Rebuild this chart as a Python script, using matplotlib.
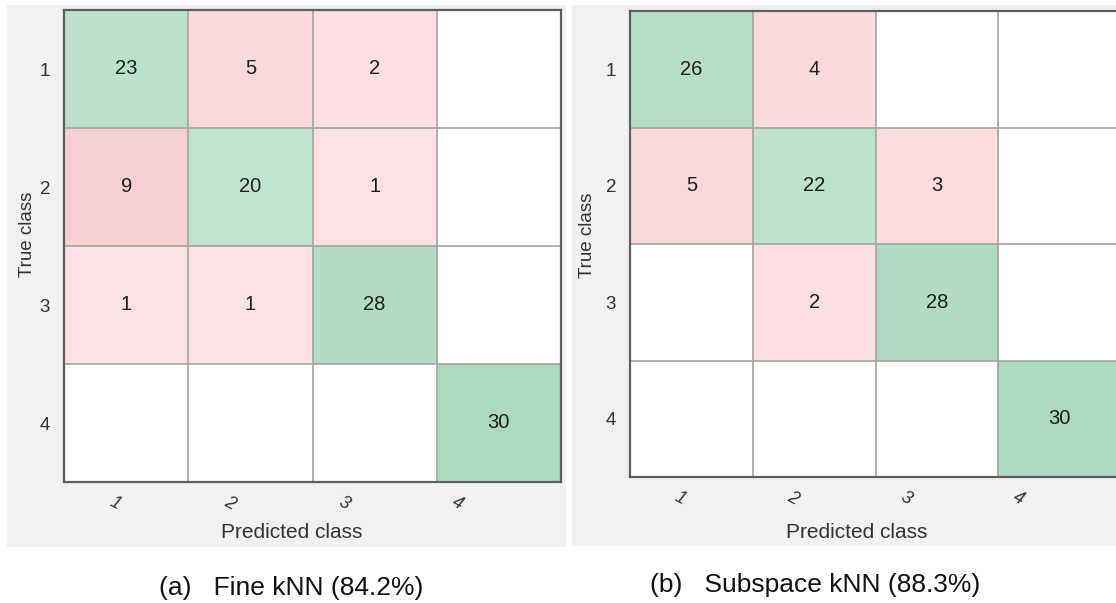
import numpy as np
import matplotlib
matplotlib.use('Agg')
import matplotlib.pyplot as plt
from matplotlib.colors import LinearSegmentedColormap, Normalize
from matplotlib.patches import Rectangle
import matplotlib.transforms as mtransforms

plt.rcParams['font.family'] = ['Liberation Sans', 'DejaVu Sans']

# ---------------- data ----------------
classes = ['1', '2', '3', '4']
fine_knn = [[23, 5, 2, 0],
            [9, 20, 1, 0],
            [1, 1, 28, 0],
            [0, 0, 0, 30]]
subspace_knn = [[26, 4, 0, 0],
                [5, 22, 3, 0],
                [0, 2, 28, 0],
                [0, 0, 0, 30]]
captions = ['(a)   Fine kNN (84.2%)', '(b)   Subspace kNN (88.3%)']
x_title = 'Predicted class'
y_title = 'True class'

# ---------------- layout (pixels) ----------------
W, H = 1116, 603
fig = plt.figure(figsize=(W / 100, H / 100), dpi=100)
fig.patch.set_facecolor('white')

def fig_rect(x0, y0, x1, y1):
    return [x0 / W, 1 - y1 / H, (x1 - x0) / W, (y1 - y0) / H]

panel_bg = [(7, 5, 566, 547), (572, 5, 1116, 546)]
axes_px = [(64, 10, 561, 482), (630, 11, 1121, 477)]
ylabel_px = [(27, 234), (588, 235)]
xlabel_px = [(292, 533), (857, 533)]
caption_px = [(291, 588), (815, 585)]

for (x0, y0, x1, y1) in panel_bg:
    r = fig_rect(x0, y0, x1, y1)
    fig.patches.append(Rectangle((r[0], r[1]), r[2], r[3], transform=fig.transFigure,
                                 facecolor='#f0f1f3', edgecolor='none', zorder=-10))

green_cmap = LinearSegmentedColormap.from_list(
    'g', [(235/255, 248/255, 240/255), (172/255, 218/255, 192/255)])
pink_cmap = LinearSegmentedColormap.from_list(
    'p', [(253/255, 227/255, 230/255), (235/255, 160/255, 163/255)])
norm = Normalize(0, 30)

for k, mat in enumerate([fine_knn, subspace_knn]):
    m = np.array(mat, dtype=float)
    ax = fig.add_axes(fig_rect(*axes_px[k]))
    ax.set_zorder(5)
    ax.set_facecolor('white')
    n = len(classes)
    diag = np.ma.masked_where(~(np.eye(n, dtype=bool) & (m > 0)), m)
    off = np.ma.masked_where(np.eye(n, dtype=bool) | (m <= 0), m)
    ax.pcolormesh(np.arange(n + 1), np.arange(n + 1), diag, cmap=green_cmap, norm=norm)
    ax.pcolormesh(np.arange(n + 1), np.arange(n + 1), off, cmap=pink_cmap, norm=norm)
    for b in range(1, n):
        ax.axhline(b, color='#a3a3a3', lw=1.2)
        ax.axvline(b, color='#a3a3a3', lw=1.2)
    ax.set_xlim(0, n)
    ax.set_ylim(n, 0)
    for i in range(n):
        for j in range(n):
            if m[i, j] > 0:
                ax.text(j + 0.5, i + 0.5, str(int(m[i, j])), ha='center', va='center',
                        fontsize=14.5, color='#1e1e1e')
    ax.set_yticks(np.arange(n) + 0.5)
    ax.set_yticklabels(classes, fontsize=13.5, color='#333333')
    ax.tick_params(axis='y', length=0, pad=10)
    ax.set_xticks([])
    # rotated x tick labels
    base = mtransforms.blended_transform_factory(ax.transData, ax.transAxes)
    for i, lab in enumerate(classes):
        off_t = mtransforms.ScaledTranslation(-(11 + 10 * i) / 100, -21 / 100, fig.dpi_scale_trans)
        ax.text(i + 0.5, 0, lab, transform=base + off_t, ha='center', va='center',
                rotation=-28, fontsize=13, style='italic', color='#333333')
    for s in ax.spines.values():
        s.set_color('#5e5e5e')
        s.set_linewidth(1.6)

    fig.text(ylabel_px[k][0] / W, 1 - ylabel_px[k][1] / H, y_title, rotation=90,
             ha='center', va='center', fontsize=13.5, color='#333333')
    fig.text(xlabel_px[k][0] / W, 1 - xlabel_px[k][1] / H, x_title,
             ha='center', va='center', fontsize=15, color='#333333')
    fig.text(caption_px[k][0] / W, 1 - caption_px[k][1] / H, captions[k],
             ha='center', va='center', fontsize=19, color='#111111')

fig.savefig('out.png', dpi=100, facecolor='white')
